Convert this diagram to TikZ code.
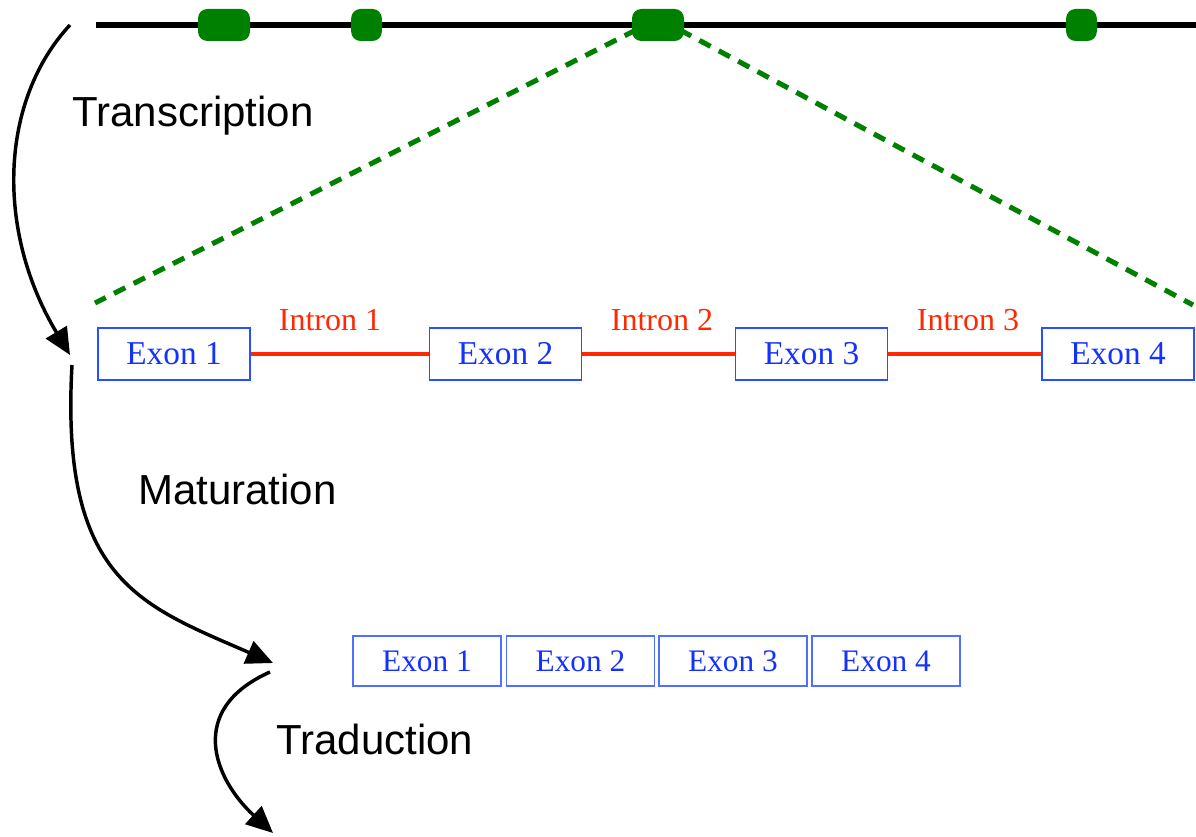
\documentclass[tikz,border=0pt]{standalone}
\usepackage{fontspec}
\setmainfont{Liberation Serif}
\newfontfamily\labelsans{Liberation Sans}
\usetikzlibrary{arrows.meta}
\definecolor{genegreen}{RGB}{0,128,0}
\definecolor{intronred}{RGB}{255,40,0}
\definecolor{exonblue}{RGB}{20,50,255}
\definecolor{boxblue}{RGB}{40,80,255}
\definecolor{boxblue2}{RGB}{80,110,255}
\begin{document}
\begin{tikzpicture}[x=0.75pt,y=-0.75pt,
  exonbox/.style={draw=boxblue, line width=1.1pt, fill=white, text=exonblue,
    font=\fontsize{25}{29}\selectfont, minimum width=114pt, minimum height=39pt, inner sep=0pt},
  matbox/.style={draw=boxblue2, line width=0.8pt, fill=white, text=exonblue,
    font=\fontsize{23.5}{27}\selectfont, minimum width=111pt, minimum height=37.5pt, inner sep=0pt},
  intronlbl/.style={text=intronred, font=\fontsize{24}{28}\selectfont, inner sep=0pt},
  intronline/.style={draw=intronred, line width=3pt},
  steplbl/.style={font=\labelsans\fontsize{31.5}{36}\selectfont, inner sep=0pt, anchor=base west},
  blob/.style={fill=genegreen, rounded corners=7pt, minimum height=24pt, inner sep=0pt},
  zoomline/.style={draw=genegreen, line width=3.8pt, dash pattern=on 9.5pt off 7pt},
  procarrow/.style={draw=black, line width=2.6pt, -{Triangle[length=20pt,width=18pt]}},
  chromosome/.style={draw=black, line width=4.5pt}
]
\useasboundingbox (0,0) rectangle (1196,837);

% chromosome line and genes
\coordinate (chrL) at (96,25);
\coordinate (chrR) at (1196,25);
\draw[chromosome] (chrL) -- (chrR);

% dashed zoom lines (under the blob)
\coordinate (zoomL) at (95,303);
\coordinate (zoomR) at (1193,305);
\coordinate (g3L) at (636,30);
\coordinate (g3R) at (680,30);
\draw[zoomline] (g3L) -- (zoomL);
\draw[zoomline] (g3R) -- (zoomR);

\node[blob, minimum width=39pt] (g1) at (224,25) {};
\node[blob, minimum width=23pt] (g2) at (366.5,25) {};
\node[blob, minimum width=39pt] (g3) at (658,25) {};
\node[blob, minimum width=23pt] (g4) at (1081.5,25) {};

% pre-mRNA
\node[exonbox] (e1) at (174,354) {Exon 1};
\node[exonbox] (e2) at (505.5,354) {Exon 2};
\node[exonbox] (e3) at (811.5,354) {Exon 3};
\node[exonbox] (e4) at (1118,354) {Exon 4};
\draw[intronline] (e1.east) -- (e2.west);
\draw[intronline] (e2.east) -- (e3.west);
\draw[intronline] (e3.east) -- (e4.west);
\node[intronlbl] (i1) at (330,320) {Intron 1};
\node[intronlbl] (i2) at (662,320) {Intron 2};
\node[intronlbl] (i3) at (968,320) {Intron 3};

% mature mRNA
\node[matbox] (m1) at (427,661) {Exon 1};
\node[matbox] (m2) at (580.5,661) {Exon 2};
\node[matbox] (m3) at (733,661) {Exon 3};
\node[matbox] (m4) at (886,661) {Exon 4};

% process labels
\node[steplbl] (tr) at (72,127) {Transcription};
\node[steplbl] (ma) at (138,505) {Maturation};
\node[steplbl] (td) at (276,754) {Traduction};

% process arrows
\coordinate (a1s) at (70,25);
\coordinate (a1e) at (70,355);
\coordinate (a2s) at (72,365);
\coordinate (a2e) at (273,663);
\coordinate (a3s) at (270,672);
\coordinate (a3e) at (273,833);
\draw[procarrow] (a1s) .. controls (0,100) and (-5,230) .. (a1e);
\draw[procarrow] (a2s) .. controls (60,580) and (140,605) .. (a2e);
\draw[procarrow] (a3s) .. controls (185,710) and (215,780) .. (a3e);
\end{tikzpicture}
\end{document}
